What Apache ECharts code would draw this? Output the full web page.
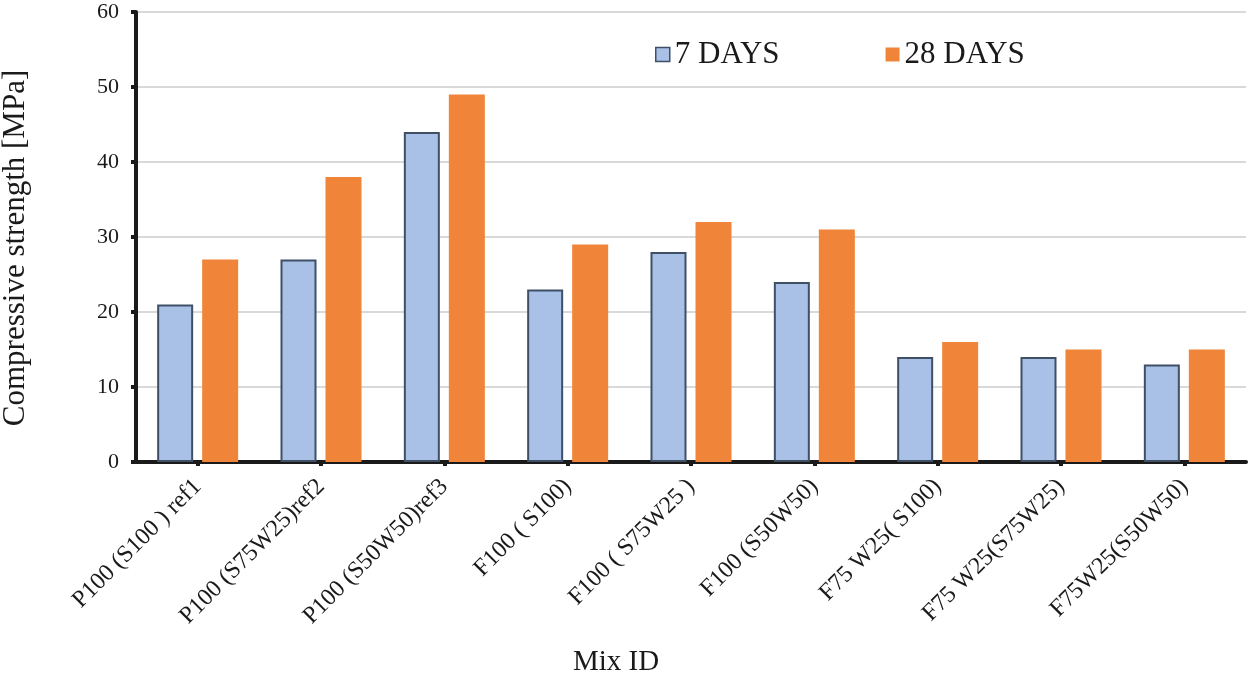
<!DOCTYPE html>
<html><head><meta charset="utf-8">
<script src="https://cdn.jsdelivr.net/npm/echarts@6/dist/echarts.min.js"></script>
<style>html,body{margin:0;padding:0;background:#fff}#c{width:1251px;height:675px}</style>
</head><body><div id="c"></div>
<script>
const categories = ['P100 (S100 ) ref1','P100 (S75W25)ref2','P100 (S50W50)ref3','F100 ( S100)','F100 ( S75W25 )','F100 (S50W50)','F75 W25( S100)','F75 W25(S75W25)','F75W25(S50W50)'];
const days7 = [21, 27, 44, 23, 28, 24, 14, 14, 13];
const days28 = [27, 38, 49, 29, 32, 31, 16, 15, 15];
const yTicks = [0, 10, 20, 30, 40, 50, 60];
const xTitle = 'Mix ID';
const yTitle = 'Compressive strength [MPa]';

const font = 'Liberation Serif';
const ink = '#1a1a1a';
const chart = echarts.init(document.getElementById('c'));
chart.setOption({
  animation: false,
  textStyle: {fontFamily: font},
  title: {
    text: xTitle, left: 568, top: 643,
    textStyle: {fontFamily: font, fontSize: 29, fontWeight: 'normal', color: ink}
  },
  graphic: [{
    type: 'text', x: 16, y: 248, rotation: Math.PI / 2,
    style: {text: yTitle, fontFamily: font, fontSize: 31, fill: ink, align: 'center', verticalAlign: 'middle'}
  }],
  legend: {
    top: 34, left: 650, itemGap: 106, itemWidth: 14, itemHeight: 14, icon: 'rect',
    textStyle: {fontFamily: font, fontSize: 31, color: ink},
    data: [
      {name: '7 DAYS', itemStyle: {color: '#A9C1E6', borderColor: '#3F4F66', borderWidth: 1.5}},
      {name: '28 DAYS', itemStyle: {color: '#F08439'}}
    ]
  },
  grid: {left: 136, right: 5, top: 12, bottom: 213, containLabel: false, outerBoundsMode: 'none'},
  xAxis: {
    type: 'category', data: categories,
    axisLine: {lineStyle: {color: ink, width: 4}},
    axisTick: {show: true, alignWithLabel: true, length: 4, lineStyle: {color: ink, width: 4}},
    axisLabel: {rotate: 45, fontFamily: font, fontSize: 24, color: ink, margin: 21, interval: 0}
  },
  yAxis: {
    type: 'value', min: 0, max: 60, interval: 10,
    axisLine: {show: true, lineStyle: {color: ink, width: 4}},
    axisTick: {show: true, inside: false, length: 5, lineStyle: {color: ink, width: 4}},
    axisLabel: {fontFamily: font, fontSize: 22, color: ink, margin: 17,
      formatter: v => yTicks.includes(v) ? String(v) : ''},
    splitLine: {show: true, lineStyle: {color: '#D9D9D9', width: 2}}
  },
  series: [
    {name: '7 DAYS', type: 'bar', data: days7, barWidth: 36, barGap: '25%',
     itemStyle: {color: '#A9C1E6', borderColor: '#3F4F66', borderWidth: 2}},
    {name: '28 DAYS', type: 'bar', data: days28, barWidth: 36,
     itemStyle: {color: '#F08439'}}
  ]
});
</script></body></html>
